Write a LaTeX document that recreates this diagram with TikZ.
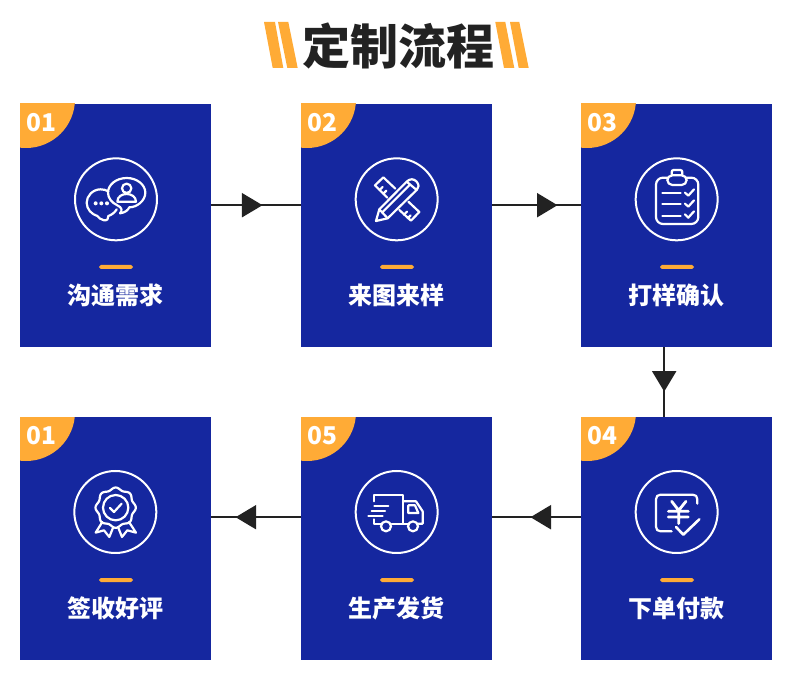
\documentclass[tikz,border=0pt]{standalone}
\usepackage{fontspec}
\setmainfont{Noto Sans CJK SC}
\usetikzlibrary{arrows.meta,decorations.markings}
\definecolor{cardblue}{HTML}{15279F}
\definecolor{accent}{HTML}{FFAB36}
\definecolor{ink}{HTML}{222222}
\tikzset{
  cardbox/.style={fill=cardblue,draw=none,minimum width=191pt,minimum height=243pt,inner sep=0pt},
  cardlabel/.style={text=white,font=\bfseries\fontsize{24}{26}\selectfont,inner sep=0pt},
  cardnum/.style={text=white,font=\bfseries\fontsize{24.5}{26}\selectfont,inner sep=0pt},
  titletext/.style={text=ink,font=\bfseries\fontsize{48}{50}\selectfont,inner sep=0pt},
  flow/.style={draw=ink,line width=2pt,postaction={decorate},decoration={markings,mark=at position #1 with {\arrow{Triangle[length=20.5pt,width=24pt,fill=ink]}}}},
  iconline/.style={draw=white,line width=2.2pt,line cap=round,line join=round},
  ring/.style={draw=white,line width=2pt},
  stripe/.style={fill=accent,draw=none},
}
\newcommand{\flowcard}[5]{% name, left x, top y, number, label
  \node[cardbox,anchor=north west] (#1) at (#2,#3) {};
  \begin{scope}
    \clip (#2,#3) rectangle ++(191,243);
    \fill[accent] ({#2+6},{#3-5}) circle[radius=49];
  \end{scope}
  \node[cardnum] (#1n) at ({#2+21.5},{#3+19}) {#4};
  \fill[accent,rounded corners=1.8pt] ({#2+79},{#3+161}) rectangle ({#2+113},{#3+165});
  \node[cardlabel] (#1l) at ({#2+95.7},{#3+191.5}) {#5};
}
\begin{document}
\begin{tikzpicture}[x=1pt,y=-1pt]
\useasboundingbox (0,0) rectangle (790,676);
\fill[white] (0,0) rectangle (790,676);
% title
\node[titletext] (title) at (398,45.5) {定制流程};
\fill[stripe] (264,22) -- (275,22) -- (283.3,68) -- (272.7,68) -- cycle;
\fill[stripe] (278,22) -- (288.3,22) -- (297.7,68) -- (287.3,68) -- cycle;
\fill[stripe] (495.3,22) -- (505.3,22) -- (514.3,68) -- (504,68) -- cycle;
\fill[stripe] (510,22) -- (519.3,22) -- (528.7,68) -- (518.7,68) -- cycle;
% cards
\flowcard{a}{20}{104}{01}{沟通需求}
\flowcard{b}{301}{104}{02}{来图来样}
\flowcard{c}{581}{104}{03}{打样确认}
\flowcard{d}{581}{417}{04}{下单付款}
\flowcard{e}{301}{417}{05}{生产发货}
\flowcard{f}{20}{417}{01}{签收好评}
% connectors
\draw[flow=.57] ([yshift=20.5pt]a.east) -- ([yshift=20.5pt]b.west);
\draw[flow=.735] ([yshift=20.5pt]b.east) -- ([yshift=20.5pt]c.west);
\draw[flow=.635] ([xshift=-12.5pt]c.south) -- ([xshift=-12.5pt]d.north);
\draw[flow=.57] ([yshift=21.5pt]d.west) -- ([yshift=21.5pt]e.east);
\draw[flow=.73] ([yshift=21.5pt]e.west) -- ([yshift=21.5pt]f.east);
% icon 1
\begin{scope}[shift={(60,150)},x=.3333pt,y=-.3333pt]
\draw[ring] (168,148) circle[radius=123];
\draw[iconline] (172,166) .. controls (155,158) and (144,144) .. (144,128) .. controls (144,104) and (169,84) .. (200,84) .. controls (231,84) and (256,104) .. (256,128) .. controls (256,152) and (231,172) .. (208,172) .. controls (204,180) and (196,188) .. (180,190) .. controls (188,182) and (186,172) .. (172,166);
\draw[iconline] (145,124) .. controls (138,120) and (130,118) .. (122,118) .. controls (98,118) and (80,138) .. (80,158) .. controls (80,178) and (95,193) .. (112,198) .. controls (116,204) and (122,208) .. (132,211) .. controls (142,212) and (146,206) .. (145,198) .. controls (155,195) and (165,187) .. (170,178);
\draw[iconline] (200,115) circle[radius=14];
\draw[iconline] (172,155) .. controls (172,140) and (186,132) .. (200,132) .. controls (214,132) and (228,140) .. (228,155) -- cycle;
\fill[white] (107,160) circle[radius=6] (124,160) circle[radius=6] (141,160) circle[radius=6];
\end{scope}
% icon 2
\begin{scope}[shift={(340,150)},x=.3333pt,y=-.3333pt]
\draw[ring] (170,148) circle[radius=123];
\draw[iconline] (166,116) -- (130,82) -- (105,106) -- (142,143);
\draw[iconline] (205,155) -- (238,186) -- (213,212) -- (178,180);
\draw[iconline] (119,120) -- (128,111) (130,131) -- (139,122) (192,194) -- (201,185) (203,205) -- (212,196);
\draw[iconline] (108,213) -- (118,178) -- (200,95) .. controls (210,85) and (222,86) .. (230,95) .. controls (238,104) and (237,114) .. (230,120) -- (143,205) -- cycle;
\draw[iconline] (118,178) -- (143,205) (200,95) -- (230,120) (128,186) -- (210,104);
\end{scope}
% icon 3
\begin{scope}[shift={(620,150)},x=.3333pt,y=-.3333pt]
\draw[ring] (170,148) circle[radius=123];
\draw[iconline,rounded corners=7pt] (142,83) -- (108,83) -- (108,222) -- (235,222) -- (235,83) -- (200,83);
\draw[iconline,rounded corners=5pt] (142,76) rectangle (200,105);
\draw[iconline,rounded corners=2pt] (155,76) -- (155,60) -- (187,60) -- (187,76);
\draw[iconline] (127,130) -- (182,130) (127,163) -- (182,163) (127,197) -- (182,197);
\draw[iconline] (195,128) -- (205,137) -- (222,118);
\draw[iconline] (195,161) -- (205,170) -- (222,151);
\draw[iconline] (195,193) -- (205,203) -- (222,184);
\end{scope}
% icon 4 (order)
\begin{scope}[shift={(620,462)},x=.3333pt,y=-.3333pt]
\draw[ring] (170,150) circle[radius=123];
\draw[iconline] (232,125) -- (232,112) .. controls (232,103) and (227,98) .. (218,98) -- (122,98) .. controls (113,98) and (108,103) .. (108,112) -- (108,194) .. controls (108,203) and (113,208) .. (122,208) -- (155,208);
\draw[iconline,line width=2.8pt] (155,118) -- (176,145) -- (198,118) (145,148) -- (205,148) (145,165) -- (205,165) (176,145) -- (176,185);
\draw[iconline,line width=2.6pt] (168,195) -- (190,218) -- (238,172);
\end{scope}
% icon 5 (truck)
\begin{scope}[shift={(340,462)},x=.3333pt,y=-.3333pt]
\draw[ring] (170,150) circle[radius=123];
\draw[iconline] (103,118) -- (103,98) -- (190,98) -- (190,185);
\draw[iconline] (103,172) -- (103,185) -- (122,185) (155,185) -- (203,185);
\draw[iconline] (190,118) -- (228,118) -- (248,148) -- (248,185) -- (235,185);
\draw[iconline] (205,130) -- (225,130) -- (235,153) -- (205,153) -- cycle;
\draw[iconline] (138,193) circle[radius=15] (219,193) circle[radius=15];
\draw[iconline] (103,131) -- (145,131) (95,147) -- (135,147) (85,163) -- (128,163);
\end{scope}
% icon 6 (badge)
\begin{scope}[shift={(60,462)},x=.3333pt,y=-.3333pt]
\draw[ring] (166,150) circle[radius=123];
\draw[iconline] plot[domain=0:360,samples=97,smooth] ({167+(57+3.5*cos(8*\x))*cos(\x)},{137+(57+3.5*cos(8*\x))*sin(\x)}) -- cycle;
\draw[iconline] (167,137) circle[radius=38];
\draw[iconline] (150,138) -- (162,150) -- (185,125);
\draw[iconline] (127,180) -- (107,212) -- (132,205) -- (148,225) -- (160,195);
\draw[iconline] (207,180) -- (228,212) -- (202,205) -- (186,225) -- (174,195);
\end{scope}
\end{tikzpicture}
\end{document}
